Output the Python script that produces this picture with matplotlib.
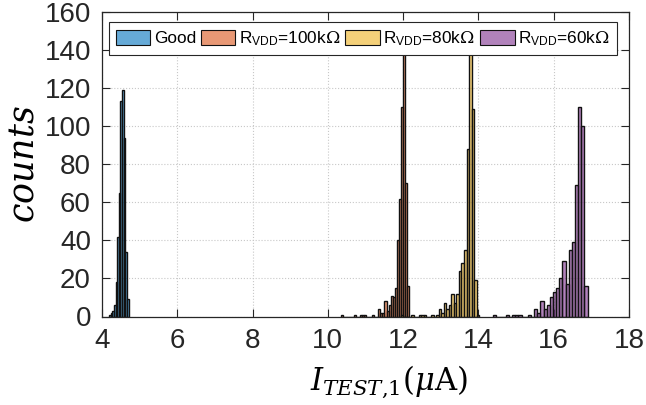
import numpy as np
import matplotlib
matplotlib.use("Agg")
import matplotlib.pyplot as plt

plt.rcParams['font.family'] = ['Liberation Sans', 'DejaVu Sans']
plt.rcParams['mathtext.fontset'] = 'custom'
plt.rcParams['mathtext.rm'] = 'DejaVu Serif'
plt.rcParams['mathtext.it'] = 'DejaVu Serif:italic'
plt.rcParams['mathtext.bf'] = 'DejaVu Serif:bold'
plt.rcParams['mathtext.sf'] = 'Liberation Sans'

# ---- data (bin start, bin width, counts per bin) ----
good_start = 4.19
good_width = 0.043
good_counts = [1, 2, 3, 6, 18, 42, 65, 113, 119, 94, 34, 9]

r100_start = 10.359
r100_width = 0.0545
r100_counts = [1, 0, 0, 0, 0, 0, 1, 0, 0, 1, 1, 1, 0, 0, 0, 1, 0, 0,
               4, 2, 2, 8, 3, 6, 11, 10, 15, 40, 62, 110, 145, 70, 16]

r80_start = 11.942
r80_width = 0.067
r80_counts = [1, 0, 0, 0, 1, 0, 0, 1, 1, 1, 0, 0, 1, 0,
              1, 4, 2, 7, 4, 6, 12, 7, 12, 24, 28, 35, 88, 145, 109, 19, 1]

r60_start = 14.394
r60_width = 0.0835
r60_counts = [1, 0, 0, 0, 1, 0, 1, 1, 1, 0, 0, 1, 0,
              4, 2, 8, 4, 6, 10, 13, 15, 20, 29, 17, 35, 39, 69, 110, 100, 16]

labels = ['Good', r'R$_{\mathsf{VDD}}$=100k$\Omega$', r'R$_{\mathsf{VDD}}$=80k$\Omega$',
          r'R$_{\mathsf{VDD}}$=60k$\Omega$']
x_ticks = [4, 6, 8, 10, 12, 14, 16, 18]
y_ticks = [0, 20, 40, 60, 80, 100, 120, 140, 160]

colors = [(0.0, 0.447, 0.741, 0.6), (0.850, 0.325, 0.098, 0.6),
          (0.929, 0.694, 0.125, 0.6), (0.494, 0.184, 0.556, 0.6)]

fig = plt.figure(figsize=(6.46, 4.05), dpi=100)
ax = fig.add_axes([102 / 646, 88.5 / 405, 527 / 646, 304.5 / 405])

series = [(good_start, good_width, good_counts),
          (r100_start, r100_width, r100_counts),
          (r80_start, r80_width, r80_counts),
          (r60_start, r60_width, r60_counts)]
for (s, w, c), col, lab in zip(series, colors, labels):
    edges = s + w * np.arange(len(c))
    ax.bar(edges, c, width=w, align='edge', facecolor=col, edgecolor='#111111',
           linewidth=1.0, label=lab, zorder=2)

ax.set_xlim(4, 18)
ax.set_ylim(0, 160)
ax.set_xticks(x_ticks)
ax.set_yticks(y_ticks)
ax.tick_params(direction='in', length=6, width=0.8, top=True, right=True,
               labelsize=20, colors='#262626', pad=8)
for sp in ax.spines.values():
    sp.set_color('#262626')
    sp.set_linewidth(0.9)
ax.grid(True, linestyle=':', color='#c8c8c8', linewidth=0.8, zorder=0)
ax.set_axisbelow(True)

ax.set_xlabel(r'$I_{TEST{,}1}(\mu\mathrm{A})$', fontsize=22)
ax.xaxis.set_label_coords(0.545, -0.155)
ax.set_ylabel(r'$counts$', fontsize=25)
ax.yaxis.set_label_coords(-0.117, 0.5)

leg = ax.legend(loc='upper left', bbox_to_anchor=(0.013, 0.966), ncol=4,
                fontsize=12.4, frameon=True, fancybox=False, framealpha=1,
                edgecolor='#262626', handlelength=2.0, handleheight=1.0,
                handletextpad=0.2, columnspacing=0.3, borderpad=0.4,
                borderaxespad=0)
leg.get_frame().set_linewidth(0.8)
for p in leg.get_patches():
    p.set_linewidth(0.8)
leg.set_zorder(5)

fig.savefig('out.png', dpi=100)
